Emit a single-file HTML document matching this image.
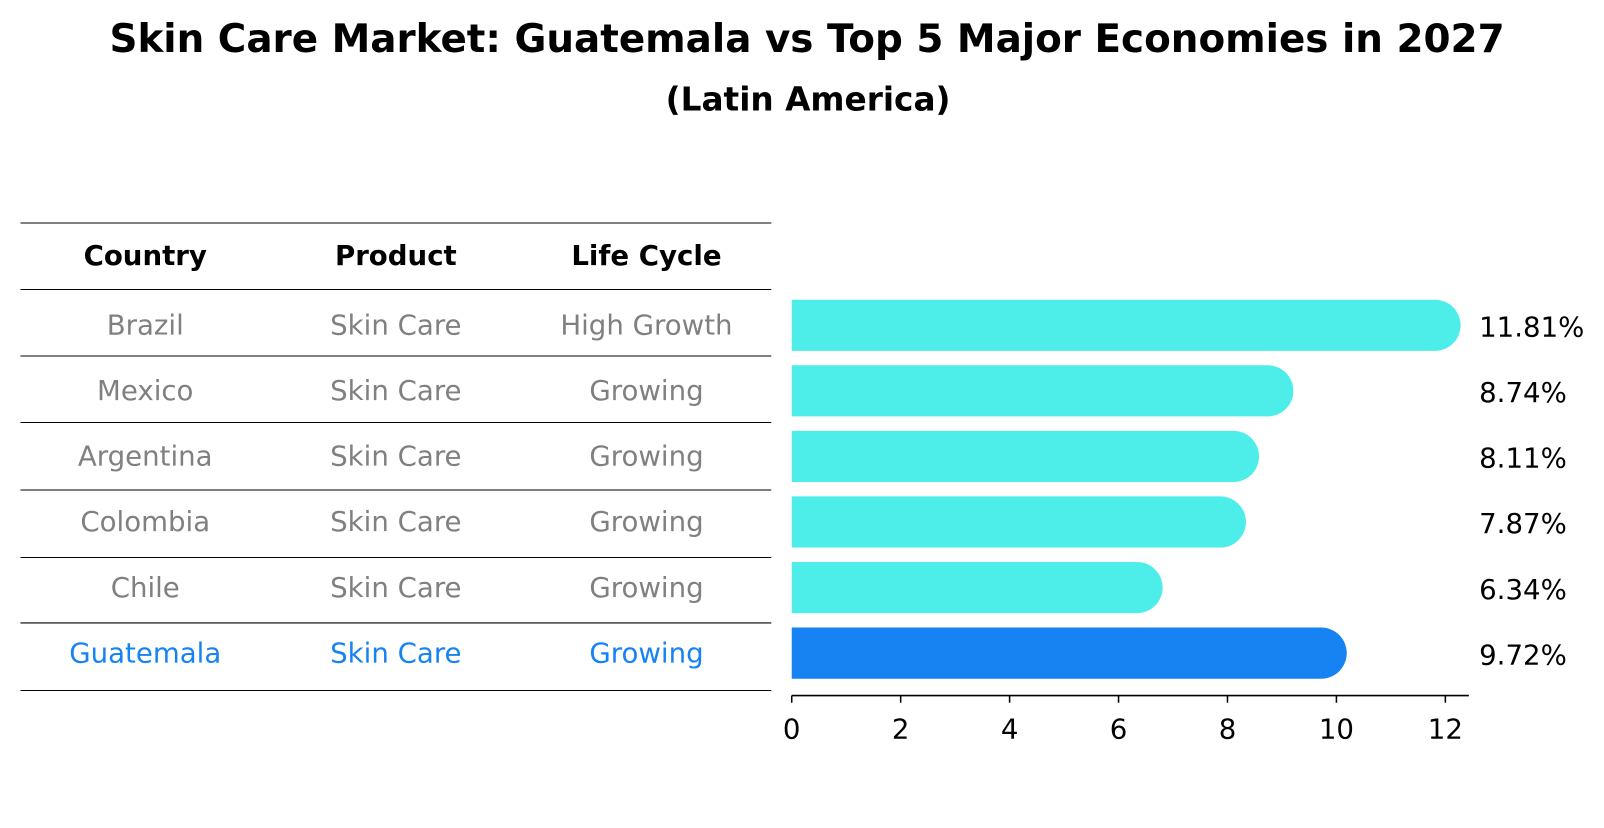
<!DOCTYPE html>
<html><head><meta charset="utf-8"><style>
body{margin:0;background:#fff;font-family:"Liberation Sans","DejaVu Sans",sans-serif}
</style></head><body>
<svg width="1604" height="823" xmlns="http://www.w3.org/2000/svg" id="svg" font-family="DejaVu Sans, Liberation Sans, sans-serif">
<rect width="1604" height="823" fill="#fff"/>
<g transform="scale(1.0229)">
<text x="789" y="51" text-anchor="middle" font-size="38" font-weight="bold">Skin Care Market: Guatemala vs Top 5 Major Economies in 2027</text>
<text x="790" y="108" text-anchor="middle" font-size="32" font-weight="bold">(Latin America)</text>
<g id="tbl"></g>
<g id="bars"></g>
</g>
</svg>
<script>
const countries=["Brazil","Mexico","Argentina","Colombia","Chile","Guatemala"];
const products=["Skin Care","Skin Care","Skin Care","Skin Care","Skin Care","Skin Care"];
const lifeCycles=["High Growth","Growing","Growing","Growing","Growing","Growing"];
const values=[11.81,8.74,8.11,7.87,6.34,9.72];
const ticks=[0,2,4,6,8,10,12];
const NS="http://www.w3.org/2000/svg";
function mk(tag,attrs,parent,text){const e=document.createElementNS(NS,tag);for(const k in attrs)e.setAttribute(k,attrs[k]);if(text!==undefined)e.textContent=text;parent.appendChild(e);return e;}
const tbl=document.getElementById('tbl'),bars=document.getElementById('bars');
const rowY=i=>318+i*64.1;
const x=v=>774+v*53.25;
const colX=[142,387,632];
const lineYs=[218,283,348,413,479,545,609,675];
lineYs.forEach(y=>{const l=mk('line',{x1:20,x2:754,y1:y,y2:y,stroke:'#000','stroke-width':1},tbl);

});
["Country","Product","Life Cycle"].forEach((h,j)=>{const t=mk('text',{x:colX[j],y:259,'text-anchor':'middle','font-size':27,'font-weight':'bold'},tbl,h);

});
countries.forEach((c,i)=>{
 const col=i===countries.length-1?'#1783F3':'#808080';
 [c,products[i],lifeCycles[i]].forEach((s,j)=>{const t=mk('text',{x:colX[j],y:rowY(i)+9,'text-anchor':'middle','font-size':27,fill:col},tbl,s);
 
 });
 const hh=25, y0=rowY(i)-hh, xe=x(values[i]);
 const fill=i===countries.length-1?'#1783F3':'#4DEDEA';
 const p=mk('path',{d:`M774 ${y0} H${xe} A${hh} ${hh} 0 0 1 ${xe} ${y0+2*hh} H774 Z`,fill:fill},bars);
 
 
 const v=mk('text',{x:1446,y:rowY(i)+11,'font-size':27},bars,values[i].toFixed(2)+'%');
 
 
});
const ax=mk('line',{x1:774,x2:1436,y1:680,y2:680,stroke:'#000','stroke-width':1.5},bars);


ticks.forEach(t=>{const tk=mk('line',{x1:x(t),x2:x(t),y1:680,y2:687,stroke:'#000','stroke-width':1.5},bars);


const tl=mk('text',{x:x(t),y:722,'text-anchor':'middle','font-size':27},bars,String(t));

});
</script>
</body></html>
